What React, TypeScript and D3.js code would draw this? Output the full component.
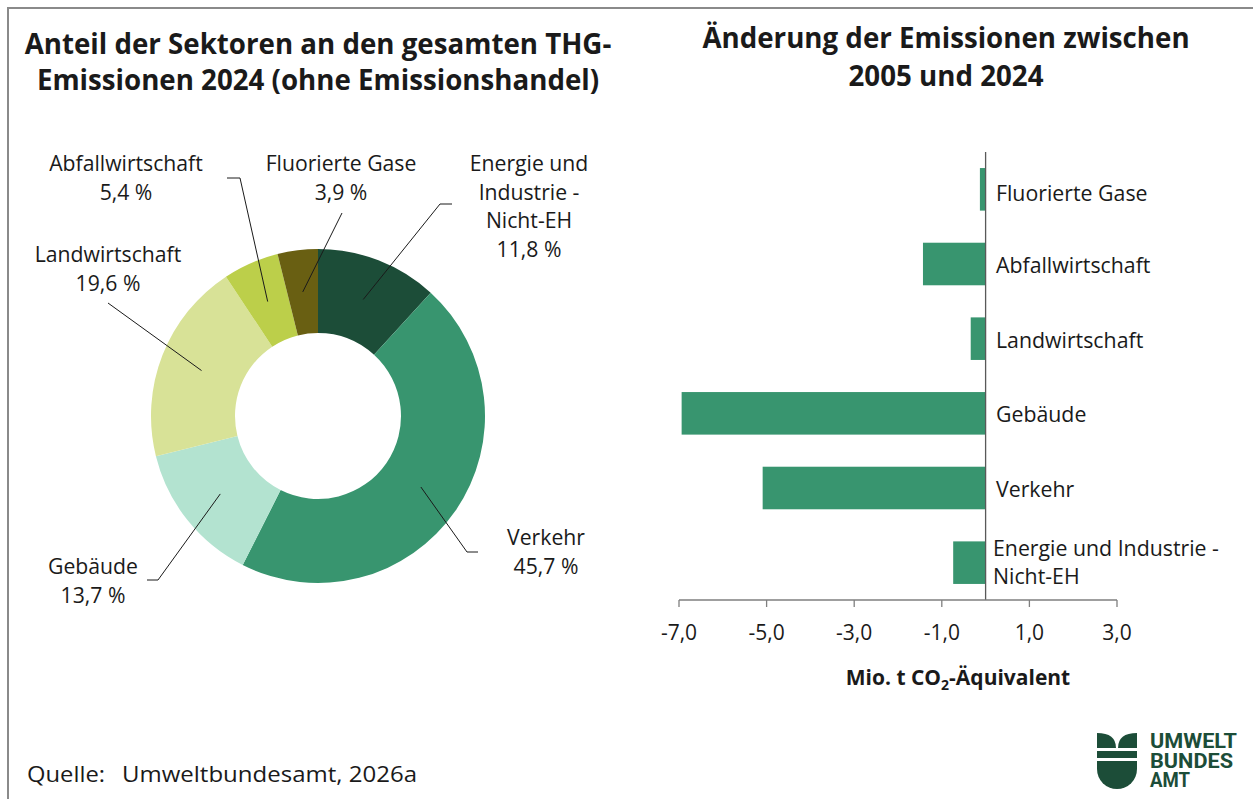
import { arc, pie, scaleBand, scaleLinear } from "d3";

// donut: share of sectors 2024 (clockwise from 12 o'clock)
const sectors = [
  "Energie und Industrie - Nicht-EH",
  "Verkehr",
  "Gebäude",
  "Landwirtschaft",
  "Abfallwirtschaft",
  "Fluorierte Gase",
];
const shares = [11.8, 45.7, 13.7, 19.6, 5.4, 3.9];
const shareLabels = ["11,8 %", "45,7 %", "13,7 %", "19,6 %", "5,4 %", "3,9 %"];

// bar chart: change 2005 -> 2024 (Mio. t CO2-Äq.)
const barCategories = [
  "Fluorierte Gase",
  "Abfallwirtschaft",
  "Landwirtschaft",
  "Gebäude",
  "Verkehr",
  "Energie und Industrie - Nicht-EH",
];
const barValues = [-0.13, -1.43, -0.34, -6.94, -5.09, -0.74];
const xTicks = [-7, -5, -3, -1, 1, 3];

const sliceColors = ["#1c4d38", "#38956f", "#b3e3d0", "#d8e297", "#bccf4a", "#695f12"];
const barColor = "#38956f";
const font = "'Open Sans', sans-serif";
const textColor = "#1a1a1a";

// label layout for the donut (text lines, centre x, first baseline, leader elbow)
const pieLabelLayout = [
  { lines: ["Energie und", "Industrie -", "Nicht-EH"], x: 529, y: 171, elbow: [440, 204], end: [452, 204] },
  { lines: ["Verkehr"], x: 546, y: 545, elbow: [467, 552], end: [478, 552] },
  { lines: ["Gebäude"], x: 93, y: 574, elbow: [158, 580], end: [147, 580] },
  { lines: ["Landwirtschaft"], x: 108, y: 262, elbow: [108, 303], end: [108, 303] },
  { lines: ["Abfallwirtschaft"], x: 126, y: 171, elbow: [240, 178], end: [227, 178] },
  { lines: ["Fluorierte Gase"], x: 341, y: 171, elbow: [342, 213], end: [342, 213] },
];

const barLabelLines: Record<string, string[]> = {
  "Energie und Industrie - Nicht-EH": ["Energie und Industrie -", "Nicht-EH"],
};

function Logo() {
  const green = "#1c4d38";
  const words = ["UMWELT", "BUNDES", "AMT"];
  const widths = [87, 83, 40];
  return (
    <g>
      <path d="M1097 733 Q1116 733 1116 748 L1097 748 Z" fill={green} />
      <path d="M1137 733 Q1118 733 1118 748 L1137 748 Z" fill={green} />
      <rect x={1097} y={751} width={40} height={7} fill={green} />
      <path d="M1097 761 L1137 761 L1137 769 A20 20 0 0 1 1097 769 Z" fill={green} />
      <text fill={green} fontFamily="Roboto, sans-serif" fontWeight="700" fontSize="20">
        {words.map((t, i) => (
          <tspan
            key={t}
            x={1150}
            y={748 + i * 19.5}
            textLength={widths[i]}
            lengthAdjust="spacingAndGlyphs"
          >
            {t}
          </tspan>
        ))}
      </text>
    </g>
  );
}

export default function App() {
  const width = 1253;
  const height = 799;

  // donut
  const cx = 318;
  const cy = 416;
  const outerR = 167;
  const innerR = 83;
  const pieGen = pie<number>().sort(null).value((d) => d);
  const arcs = pieGen(shares);
  const arcGen = arc<any>().innerRadius(innerR).outerRadius(outerR);
  const anchorArc = arc<any>().innerRadius(125).outerRadius(125);

  // bars
  const x = scaleLinear().domain([-7, 3]).range([679, 1117]);
  const y = scaleBand<string>()
    .domain(barCategories)
    .range([152, 600])
    .paddingInner(0.43)
    .paddingOuter(0.215);
  const axisY = 600;

  return (
    <svg width={width} height={height} style={{ position: "absolute", left: 0, top: 0 }}>
      <rect width={width} height={height} fill="#ffffff" />
      <path d={`M8 ${height} L8 8 L${width} 8`} fill="none" stroke="#8a8a8a" strokeWidth="2" />

      {/* titles */}
      <g fontFamily={font} fontWeight="700" fontSize="27.7" fill={textColor} textAnchor="middle">
        <text x={318} y={54}>Anteil der Sektoren an den gesamten THG-</text>
        <text x={318} y={90}>Emissionen 2024 (ohne Emissionshandel)</text>
        <text x={946} y={48}>Änderung der Emissionen zwischen</text>
        <text x={946} y={86}>2005 und 2024</text>
      </g>

      {/* donut */}
      <g transform={`translate(${cx},${cy})`}>
        {arcs.map((a, i) => (
          <path key={sectors[i]} d={arcGen(a) ?? ""} fill={sliceColors[i]} />
        ))}
      </g>
      {arcs.map((a, i) => {
        const [ax, ay] = anchorArc.centroid(a);
        const lay = pieLabelLayout[i];
        const p0 = [cx + ax, cy + ay];
        return (
          <path
            key={`leader-${i}`}
            d={`M${p0[0]} ${p0[1]} L${lay.elbow[0]} ${lay.elbow[1]} L${lay.end[0]} ${lay.end[1]}`}
            fill="none"
            stroke="#1a1a1a"
            strokeWidth="1"
          />
        );
      })}
      <g fontFamily={font} fontSize="21.2" fill={textColor} textAnchor="middle">
        {pieLabelLayout.map((lay, i) => (
          <text key={`pl-${i}`} x={lay.x} y={lay.y}>
            {[...lay.lines, shareLabels[i]].map((l, j) => (
              <tspan key={j} x={lay.x} dy={j === 0 ? 0 : 28.7}>
                {l}
              </tspan>
            ))}
          </text>
        ))}
      </g>

      {/* bars */}
      {barCategories.map((c, i) => {
        const v = barValues[i];
        return (
          <rect
            key={c}
            x={x(Math.min(0, v))}
            y={y(c) ?? 0}
            width={Math.abs(x(v) - x(0))}
            height={y.bandwidth()}
            fill={barColor}
          />
        );
      })}
      <line x1={x(0)} x2={x(0)} y1={152} y2={axisY} stroke="#595959" strokeWidth="1.3" />
      <line x1={x(-7)} x2={x(3)} y1={axisY} y2={axisY} stroke="#7f7f7f" strokeWidth="1.3" />
      {xTicks.map((t) => (
        <g key={t}>
          <line x1={x(t)} x2={x(t)} y1={axisY} y2={axisY + 7} stroke="#7f7f7f" strokeWidth="1.3" />
          <text x={x(t)} y={640} textAnchor="middle" fontFamily={font} fontSize="21" fill={textColor}>
            {t.toFixed(1).replace(".", ",")}
          </text>
        </g>
      ))}
      <g fontFamily={font} fontSize="21.3" fill={textColor}>
        {barCategories.map((c, i) => {
          const lines = barLabelLines[c] ?? [c];
          const mid = (y(c) ?? 0) + y.bandwidth() / 2;
          const base = lines.length === 1 ? mid + (i === 0 ? 12 : 9) : mid - 7;
          return (
            <text key={`bl-${c}`} x={996} y={base}>
              {lines.map((l, j) => (
                <tspan key={j} x={lines.length === 1 ? 996 : 993} dy={j === 0 ? 0 : 28}>
                  {l}
                </tspan>
              ))}
            </text>
          );
        })}
      </g>
      <text x={958} y={685} textAnchor="middle" fontFamily={font} fontWeight="700" fontSize="21" fill={textColor}>
        Mio. t CO
        <tspan fontSize="14" dy="5">2</tspan>
        <tspan dy="-5">-Äquivalent</tspan>
      </text>

      {/* source */}
      <g fontFamily={font} fontSize="22" fill={textColor}>
        <text x={27} y={782} textLength={78} lengthAdjust="spacingAndGlyphs">Quelle:</text>
        <text x={122} y={782} textLength={295} lengthAdjust="spacingAndGlyphs">Umweltbundesamt, 2026a</text>
      </g>

      <Logo />
    </svg>
  );
}
